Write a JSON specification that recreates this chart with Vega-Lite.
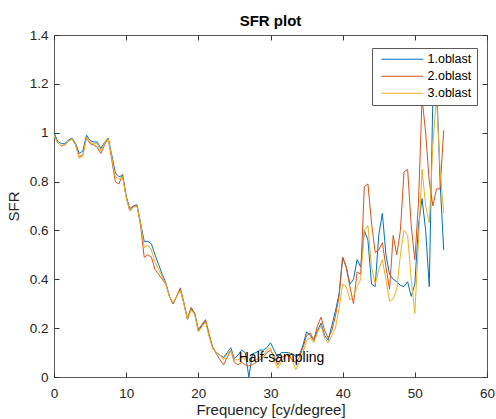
{
  "$schema": "https://vega.github.io/schema/vega-lite/v6.json",
  "width": 433,
  "height": 342,
  "autosize": {"type": "none"},
  "padding": {"left": 54, "top": 35, "right": 9, "bottom": 42},
  "background": "white",
  "title": {"text": "SFR plot", "fontSize": 15, "fontWeight": "bold", "font": "Liberation Sans", "color": "#000000", "offset": -1},
  "config": {
    "font": "Liberation Sans",
    "view": {"stroke": "#5a5a5a", "strokeWidth": 1},
    "axis": {
      "domain": false,
      "grid": false,
      "tickColor": "#333333",
      "tickSize": -5,
      "tickWidth": 1,
      "labelColor": "#262626",
      "labelFontSize": 13.5,
      "labelFont": "Liberation Sans",
      "titleColor": "#262626",
      "titleFontSize": 15,
      "titleFont": "Liberation Sans",
      "titleFontWeight": "normal"
    }
  },
  "resolve": {"axis": {"x": "independent", "y": "independent"}},
  "layer": [
    {
      "data": {"values": [
        {"f":0,"s":"1.oblast","v":1.0},{"f":0.5,"s":"1.oblast","v":0.965},{"f":1,"s":"1.oblast","v":0.955},{"f":1.5,"s":"1.oblast","v":0.955},{"f":2,"s":"1.oblast","v":0.97},{"f":2.5,"s":"1.oblast","v":0.978},{"f":3,"s":"1.oblast","v":0.955},{"f":3.5,"s":"1.oblast","v":0.915},{"f":4,"s":"1.oblast","v":0.925},{"f":4.5,"s":"1.oblast","v":0.99},
        {"f":5,"s":"1.oblast","v":0.968},{"f":5.5,"s":"1.oblast","v":0.962},{"f":6,"s":"1.oblast","v":0.962},{"f":6.5,"s":"1.oblast","v":0.935},{"f":7,"s":"1.oblast","v":0.96},{"f":7.5,"s":"1.oblast","v":0.978},{"f":8,"s":"1.oblast","v":0.91},{"f":8.5,"s":"1.oblast","v":0.835},{"f":9,"s":"1.oblast","v":0.82},{"f":9.5,"s":"1.oblast","v":0.825},
        {"f":10,"s":"1.oblast","v":0.74},{"f":10.5,"s":"1.oblast","v":0.69},{"f":11,"s":"1.oblast","v":0.7},{"f":11.5,"s":"1.oblast","v":0.705},{"f":12,"s":"1.oblast","v":0.63},{"f":12.5,"s":"1.oblast","v":0.555},{"f":13,"s":"1.oblast","v":0.555},{"f":13.5,"s":"1.oblast","v":0.545},{"f":14,"s":"1.oblast","v":0.5},{"f":14.5,"s":"1.oblast","v":0.46},
        {"f":15,"s":"1.oblast","v":0.42},{"f":15.5,"s":"1.oblast","v":0.385},{"f":16,"s":"1.oblast","v":0.33},{"f":16.5,"s":"1.oblast","v":0.3},{"f":17,"s":"1.oblast","v":0.33},{"f":17.5,"s":"1.oblast","v":0.36},{"f":18,"s":"1.oblast","v":0.3},{"f":18.5,"s":"1.oblast","v":0.235},{"f":19,"s":"1.oblast","v":0.28},{"f":19.5,"s":"1.oblast","v":0.26},
        {"f":20,"s":"1.oblast","v":0.19},{"f":20.5,"s":"1.oblast","v":0.21},{"f":21,"s":"1.oblast","v":0.23},{"f":21.5,"s":"1.oblast","v":0.17},{"f":22,"s":"1.oblast","v":0.12},{"f":22.5,"s":"1.oblast","v":0.1},{"f":23,"s":"1.oblast","v":0.09},{"f":23.5,"s":"1.oblast","v":0.08},{"f":24,"s":"1.oblast","v":0.1},{"f":24.5,"s":"1.oblast","v":0.12},
        {"f":25,"s":"1.oblast","v":0.075},{"f":25.5,"s":"1.oblast","v":0.09},{"f":26,"s":"1.oblast","v":0.11},{"f":26.5,"s":"1.oblast","v":0.1},{"f":27,"s":"1.oblast","v":0.0},{"f":27.5,"s":"1.oblast","v":0.095},{"f":28,"s":"1.oblast","v":0.1},{"f":28.5,"s":"1.oblast","v":0.11},{"f":29,"s":"1.oblast","v":0.11},{"f":29.5,"s":"1.oblast","v":0.12},
        {"f":30,"s":"1.oblast","v":0.14},{"f":30.5,"s":"1.oblast","v":0.11},{"f":31,"s":"1.oblast","v":0.08},{"f":31.5,"s":"1.oblast","v":0.1},{"f":32,"s":"1.oblast","v":0.1},{"f":32.5,"s":"1.oblast","v":0.1},{"f":33,"s":"1.oblast","v":0.095},{"f":33.5,"s":"1.oblast","v":0.085},{"f":34,"s":"1.oblast","v":0.09},{"f":34.5,"s":"1.oblast","v":0.13},
        {"f":35,"s":"1.oblast","v":0.185},{"f":35.5,"s":"1.oblast","v":0.17},{"f":36,"s":"1.oblast","v":0.15},{"f":36.5,"s":"1.oblast","v":0.19},{"f":37,"s":"1.oblast","v":0.22},{"f":37.5,"s":"1.oblast","v":0.17},{"f":38,"s":"1.oblast","v":0.15},{"f":38.5,"s":"1.oblast","v":0.21},{"f":39,"s":"1.oblast","v":0.27},{"f":39.5,"s":"1.oblast","v":0.34},
        {"f":40,"s":"1.oblast","v":0.49},{"f":40.5,"s":"1.oblast","v":0.45},{"f":41,"s":"1.oblast","v":0.38},{"f":41.5,"s":"1.oblast","v":0.4},{"f":42,"s":"1.oblast","v":0.48},{"f":42.5,"s":"1.oblast","v":0.45},{"f":43,"s":"1.oblast","v":0.6},{"f":43.5,"s":"1.oblast","v":0.56},{"f":44,"s":"1.oblast","v":0.38},{"f":44.5,"s":"1.oblast","v":0.37},
        {"f":45,"s":"1.oblast","v":0.58},{"f":45.5,"s":"1.oblast","v":0.67},{"f":46,"s":"1.oblast","v":0.5},{"f":46.5,"s":"1.oblast","v":0.42},{"f":47,"s":"1.oblast","v":0.4},{"f":47.5,"s":"1.oblast","v":0.39},{"f":48,"s":"1.oblast","v":0.375},{"f":48.5,"s":"1.oblast","v":0.37},{"f":49,"s":"1.oblast","v":0.39},{"f":49.5,"s":"1.oblast","v":0.33},
        {"f":50,"s":"1.oblast","v":0.38},{"f":50.5,"s":"1.oblast","v":0.62},{"f":51,"s":"1.oblast","v":0.73},{"f":51.5,"s":"1.oblast","v":0.6},{"f":52,"s":"1.oblast","v":0.37},{"f":52.5,"s":"1.oblast","v":1.15},{"f":53,"s":"1.oblast","v":1.22},{"f":53.5,"s":"1.oblast","v":0.8},{"f":54,"s":"1.oblast","v":0.52},

        {"f":0,"s":"2.oblast","v":0.99},{"f":0.5,"s":"2.oblast","v":0.96},{"f":1,"s":"2.oblast","v":0.945},{"f":1.5,"s":"2.oblast","v":0.95},{"f":2,"s":"2.oblast","v":0.965},{"f":2.5,"s":"2.oblast","v":0.975},{"f":3,"s":"2.oblast","v":0.95},{"f":3.5,"s":"2.oblast","v":0.9},{"f":4,"s":"2.oblast","v":0.91},{"f":4.5,"s":"2.oblast","v":0.98},
        {"f":5,"s":"2.oblast","v":0.955},{"f":5.5,"s":"2.oblast","v":0.95},{"f":6,"s":"2.oblast","v":0.94},{"f":6.5,"s":"2.oblast","v":0.915},{"f":7,"s":"2.oblast","v":0.95},{"f":7.5,"s":"2.oblast","v":0.975},{"f":8,"s":"2.oblast","v":0.89},{"f":8.5,"s":"2.oblast","v":0.8},{"f":9,"s":"2.oblast","v":0.79},{"f":9.5,"s":"2.oblast","v":0.83},
        {"f":10,"s":"2.oblast","v":0.74},{"f":10.5,"s":"2.oblast","v":0.68},{"f":11,"s":"2.oblast","v":0.7},{"f":11.5,"s":"2.oblast","v":0.7},{"f":12,"s":"2.oblast","v":0.62},{"f":12.5,"s":"2.oblast","v":0.49},{"f":13,"s":"2.oblast","v":0.5},{"f":13.5,"s":"2.oblast","v":0.49},{"f":14,"s":"2.oblast","v":0.44},{"f":14.5,"s":"2.oblast","v":0.42},
        {"f":15,"s":"2.oblast","v":0.4},{"f":15.5,"s":"2.oblast","v":0.38},{"f":16,"s":"2.oblast","v":0.33},{"f":16.5,"s":"2.oblast","v":0.3},{"f":17,"s":"2.oblast","v":0.33},{"f":17.5,"s":"2.oblast","v":0.365},{"f":18,"s":"2.oblast","v":0.305},{"f":18.5,"s":"2.oblast","v":0.24},{"f":19,"s":"2.oblast","v":0.285},{"f":19.5,"s":"2.oblast","v":0.26},
        {"f":20,"s":"2.oblast","v":0.195},{"f":20.5,"s":"2.oblast","v":0.215},{"f":21,"s":"2.oblast","v":0.235},{"f":21.5,"s":"2.oblast","v":0.175},{"f":22,"s":"2.oblast","v":0.12},{"f":22.5,"s":"2.oblast","v":0.095},{"f":23,"s":"2.oblast","v":0.07},{"f":23.5,"s":"2.oblast","v":0.05},{"f":24,"s":"2.oblast","v":0.08},{"f":24.5,"s":"2.oblast","v":0.11},
        {"f":25,"s":"2.oblast","v":0.06},{"f":25.5,"s":"2.oblast","v":0.05},{"f":26,"s":"2.oblast","v":0.06},{"f":26.5,"s":"2.oblast","v":0.05},{"f":27,"s":"2.oblast","v":0.045},{"f":27.5,"s":"2.oblast","v":0.05},{"f":28,"s":"2.oblast","v":0.06},{"f":28.5,"s":"2.oblast","v":0.07},{"f":29,"s":"2.oblast","v":0.08},{"f":29.5,"s":"2.oblast","v":0.1},
        {"f":30,"s":"2.oblast","v":0.11},{"f":30.5,"s":"2.oblast","v":0.085},{"f":31,"s":"2.oblast","v":0.05},{"f":31.5,"s":"2.oblast","v":0.08},{"f":32,"s":"2.oblast","v":0.085},{"f":32.5,"s":"2.oblast","v":0.09},{"f":33,"s":"2.oblast","v":0.07},{"f":33.5,"s":"2.oblast","v":0.06},{"f":34,"s":"2.oblast","v":0.08},{"f":34.5,"s":"2.oblast","v":0.12},
        {"f":35,"s":"2.oblast","v":0.17},{"f":35.5,"s":"2.oblast","v":0.18},{"f":36,"s":"2.oblast","v":0.15},{"f":36.5,"s":"2.oblast","v":0.21},{"f":37,"s":"2.oblast","v":0.245},{"f":37.5,"s":"2.oblast","v":0.19},{"f":38,"s":"2.oblast","v":0.16},{"f":38.5,"s":"2.oblast","v":0.19},{"f":39,"s":"2.oblast","v":0.25},{"f":39.5,"s":"2.oblast","v":0.33},
        {"f":40,"s":"2.oblast","v":0.49},{"f":40.5,"s":"2.oblast","v":0.45},{"f":41,"s":"2.oblast","v":0.37},{"f":41.5,"s":"2.oblast","v":0.3},{"f":42,"s":"2.oblast","v":0.43},{"f":42.5,"s":"2.oblast","v":0.42},{"f":43,"s":"2.oblast","v":0.78},{"f":43.5,"s":"2.oblast","v":0.79},{"f":44,"s":"2.oblast","v":0.63},{"f":44.5,"s":"2.oblast","v":0.51},
        {"f":45,"s":"2.oblast","v":0.52},{"f":45.5,"s":"2.oblast","v":0.55},{"f":46,"s":"2.oblast","v":0.45},{"f":46.5,"s":"2.oblast","v":0.36},{"f":47,"s":"2.oblast","v":0.58},{"f":47.5,"s":"2.oblast","v":0.5},{"f":48,"s":"2.oblast","v":0.6},{"f":48.5,"s":"2.oblast","v":0.84},{"f":49,"s":"2.oblast","v":0.85},{"f":49.5,"s":"2.oblast","v":0.62},
        {"f":50,"s":"2.oblast","v":0.48},{"f":50.5,"s":"2.oblast","v":0.71},{"f":51,"s":"2.oblast","v":1.14},{"f":51.5,"s":"2.oblast","v":1.0},{"f":52,"s":"2.oblast","v":0.8},{"f":52.5,"s":"2.oblast","v":0.7},{"f":53,"s":"2.oblast","v":0.77},{"f":53.5,"s":"2.oblast","v":0.77},{"f":54,"s":"2.oblast","v":1.01},

        {"f":0,"s":"3.oblast","v":0.99},{"f":0.5,"s":"3.oblast","v":0.96},{"f":1,"s":"3.oblast","v":0.945},{"f":1.5,"s":"3.oblast","v":0.95},{"f":2,"s":"3.oblast","v":0.965},{"f":2.5,"s":"3.oblast","v":0.975},{"f":3,"s":"3.oblast","v":0.95},{"f":3.5,"s":"3.oblast","v":0.895},{"f":4,"s":"3.oblast","v":0.905},{"f":4.5,"s":"3.oblast","v":0.98},
        {"f":5,"s":"3.oblast","v":0.96},{"f":5.5,"s":"3.oblast","v":0.955},{"f":6,"s":"3.oblast","v":0.955},{"f":6.5,"s":"3.oblast","v":0.925},{"f":7,"s":"3.oblast","v":0.955},{"f":7.5,"s":"3.oblast","v":0.975},{"f":8,"s":"3.oblast","v":0.9},{"f":8.5,"s":"3.oblast","v":0.82},{"f":9,"s":"3.oblast","v":0.81},{"f":9.5,"s":"3.oblast","v":0.82},
        {"f":10,"s":"3.oblast","v":0.735},{"f":10.5,"s":"3.oblast","v":0.68},{"f":11,"s":"3.oblast","v":0.695},{"f":11.5,"s":"3.oblast","v":0.7},{"f":12,"s":"3.oblast","v":0.63},{"f":12.5,"s":"3.oblast","v":0.53},{"f":13,"s":"3.oblast","v":0.54},{"f":13.5,"s":"3.oblast","v":0.52},{"f":14,"s":"3.oblast","v":0.47},{"f":14.5,"s":"3.oblast","v":0.44},
        {"f":15,"s":"3.oblast","v":0.41},{"f":15.5,"s":"3.oblast","v":0.38},{"f":16,"s":"3.oblast","v":0.33},{"f":16.5,"s":"3.oblast","v":0.305},{"f":17,"s":"3.oblast","v":0.33},{"f":17.5,"s":"3.oblast","v":0.355},{"f":18,"s":"3.oblast","v":0.3},{"f":18.5,"s":"3.oblast","v":0.235},{"f":19,"s":"3.oblast","v":0.275},{"f":19.5,"s":"3.oblast","v":0.255},
        {"f":20,"s":"3.oblast","v":0.185},{"f":20.5,"s":"3.oblast","v":0.205},{"f":21,"s":"3.oblast","v":0.225},{"f":21.5,"s":"3.oblast","v":0.165},{"f":22,"s":"3.oblast","v":0.115},{"f":22.5,"s":"3.oblast","v":0.1},{"f":23,"s":"3.oblast","v":0.09},{"f":23.5,"s":"3.oblast","v":0.07},{"f":24,"s":"3.oblast","v":0.095},{"f":24.5,"s":"3.oblast","v":0.11},
        {"f":25,"s":"3.oblast","v":0.07},{"f":25.5,"s":"3.oblast","v":0.07},{"f":26,"s":"3.oblast","v":0.08},{"f":26.5,"s":"3.oblast","v":0.07},{"f":27,"s":"3.oblast","v":0.06},{"f":27.5,"s":"3.oblast","v":0.065},{"f":28,"s":"3.oblast","v":0.07},{"f":28.5,"s":"3.oblast","v":0.08},{"f":29,"s":"3.oblast","v":0.09},{"f":29.5,"s":"3.oblast","v":0.11},
        {"f":30,"s":"3.oblast","v":0.12},{"f":30.5,"s":"3.oblast","v":0.07},{"f":31,"s":"3.oblast","v":0.035},{"f":31.5,"s":"3.oblast","v":0.06},{"f":32,"s":"3.oblast","v":0.08},{"f":32.5,"s":"3.oblast","v":0.1},{"f":33,"s":"3.oblast","v":0.07},{"f":33.5,"s":"3.oblast","v":0.03},{"f":34,"s":"3.oblast","v":0.06},{"f":34.5,"s":"3.oblast","v":0.1},
        {"f":35,"s":"3.oblast","v":0.15},{"f":35.5,"s":"3.oblast","v":0.16},{"f":36,"s":"3.oblast","v":0.14},{"f":36.5,"s":"3.oblast","v":0.18},{"f":37,"s":"3.oblast","v":0.21},{"f":37.5,"s":"3.oblast","v":0.16},{"f":38,"s":"3.oblast","v":0.14},{"f":38.5,"s":"3.oblast","v":0.17},{"f":39,"s":"3.oblast","v":0.2},{"f":39.5,"s":"3.oblast","v":0.28},
        {"f":40,"s":"3.oblast","v":0.38},{"f":40.5,"s":"3.oblast","v":0.37},{"f":41,"s":"3.oblast","v":0.315},{"f":41.5,"s":"3.oblast","v":0.33},{"f":42,"s":"3.oblast","v":0.37},{"f":42.5,"s":"3.oblast","v":0.4},{"f":43,"s":"3.oblast","v":0.6},{"f":43.5,"s":"3.oblast","v":0.62},{"f":44,"s":"3.oblast","v":0.45},{"f":44.5,"s":"3.oblast","v":0.38},
        {"f":45,"s":"3.oblast","v":0.44},{"f":45.5,"s":"3.oblast","v":0.48},{"f":46,"s":"3.oblast","v":0.4},{"f":46.5,"s":"3.oblast","v":0.31},{"f":47,"s":"3.oblast","v":0.32},{"f":47.5,"s":"3.oblast","v":0.36},{"f":48,"s":"3.oblast","v":0.5},{"f":48.5,"s":"3.oblast","v":0.6},{"f":49,"s":"3.oblast","v":0.58},{"f":49.5,"s":"3.oblast","v":0.4},
        {"f":50,"s":"3.oblast","v":0.26},{"f":50.5,"s":"3.oblast","v":0.55},{"f":51,"s":"3.oblast","v":0.85},{"f":51.5,"s":"3.oblast","v":0.7},{"f":52,"s":"3.oblast","v":0.63},{"f":52.5,"s":"3.oblast","v":0.95},{"f":53,"s":"3.oblast","v":1.15},{"f":53.5,"s":"3.oblast","v":0.85},{"f":54,"s":"3.oblast","v":0.67}
      ]},
      "mark": {"type": "line", "strokeWidth": 1, "clip": true},
      "encoding": {
        "x": {"field": "f", "type": "quantitative",
              "scale": {"domain": [0, 60], "nice": false},
              "axis": {"orient": "bottom", "values": [0, 10, 20, 30, 40, 50, 60], "title": "Frequency [cy/degree]", "labelPadding": 14, "titlePadding": 3, "labelFlush": false}},
        "y": {"field": "v", "type": "quantitative",
              "scale": {"domain": [0, 1.4], "nice": false, "zero": true},
              "axis": {"orient": "left", "values": [0, 0.2, 0.4, 0.6, 0.8, 1, 1.2, 1.4], "format": "~g", "title": "SFR", "labelPadding": 11, "titlePadding": 8, "labelFlush": false}},
        "color": {"field": "s", "type": "nominal",
                  "scale": {"domain": ["1.oblast", "2.oblast", "3.oblast"], "range": ["#0072BD", "#D95319", "#EDB120"]},
                  "legend": {"title": null, "orient": "none", "legendX": 318, "legendY": 13,
                             "fillColor": "white", "strokeColor": "#5a5a5a", "padding": 5,
                             "symbolType": "M-4,0H4", "symbolSize": 110, "symbolStrokeWidth": 1.2, "symbolOffset": 19,
                             "labelFontSize": 12.5, "labelFont": "Liberation Sans", "labelColor": "#000000",
                             "labelOffset": 19, "rowPadding": 4}}
      }
    },
    {
      "data": {"values": [{"f": 25.6, "v": 0.078, "t": "Half-sampling"}]},
      "mark": {"type": "text", "align": "left", "baseline": "middle", "fontSize": 14, "font": "Liberation Sans", "color": "#000000"},
      "encoding": {
        "text": {"field": "t"},
        "x": {"field": "f", "type": "quantitative", "scale": {"domain": [0, 60], "nice": false},
              "axis": {"orient": "top", "values": [0, 10, 20, 30, 40, 50, 60], "labels": false, "title": null}},
        "y": {"field": "v", "type": "quantitative", "scale": {"domain": [0, 1.4], "nice": false},
              "axis": {"orient": "right", "values": [0, 0.2, 0.4, 0.6, 0.8, 1, 1.2, 1.4], "labels": false, "title": null}}
      }
    }
  ]
}
